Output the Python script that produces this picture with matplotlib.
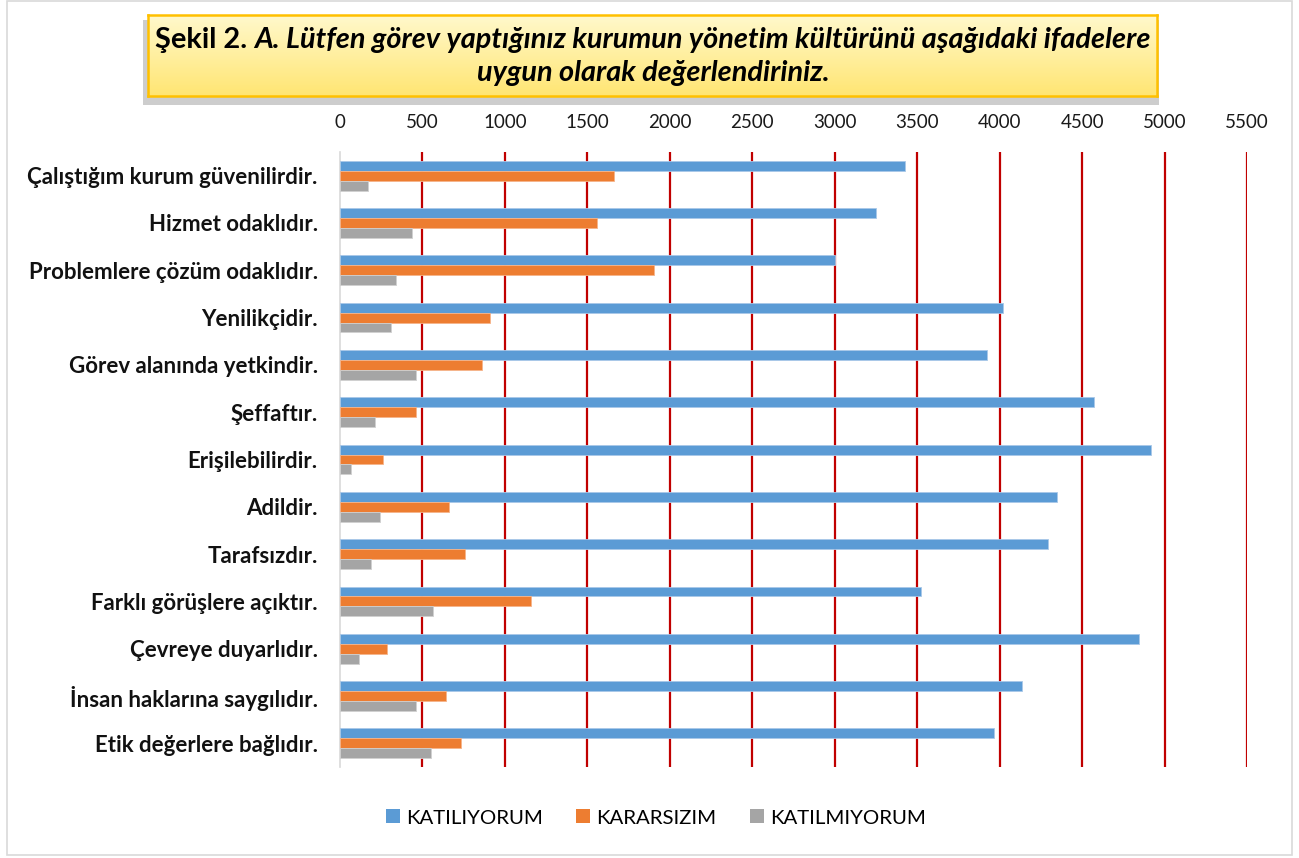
import numpy as np
import matplotlib
matplotlib.use("Agg")
import matplotlib.pyplot as plt
from matplotlib.patches import Rectangle, Patch

plt.rcParams['font.family'] = ['Lato', 'DejaVu Sans']

# data, top to bottom as in the chart
categories = [
    "Çalıştığım kurum güvenilirdir.",
    "Hizmet odaklıdır.",
    "Problemlere çözüm odaklıdır.",
    "Yenilikçidir.",
    "Görev alanında yetkindir.",
    "Şeffaftır.",
    "Erişilebilirdir.",
    "Adildir.",
    "Tarafsızdır.",
    "Farklı görüşlere açıktır.",
    "Çevreye duyarlıdır.",
    "İnsan haklarına saygılıdır.",
    "Etik değerlere bağlıdır.",
]
katiliyorum = [3426, 3250, 3002, 4019, 3923, 4570, 4915, 4346, 4292, 3523, 4843, 4134, 3965]
kararsizim = [1659, 1556, 1907, 908, 860, 460, 260, 660, 757, 1156, 285, 642, 732]
katilmiyorum = [170, 436, 339, 309, 460, 212, 67, 242, 188, 563, 115, 460, 551]
series_names = ["KATILIYORUM", "KARARSIZIM", "KATILMIYORUM"]
colors = ["#5B9BD5", "#ED7D31", "#A5A5A5"]
edges = ["#A9C8E8", "#F5B48A", "#D0D0D0"]
xticks = np.arange(0, 5501, 500)

W, H = 1299, 858
fig = plt.figure(figsize=(W / 100, H / 100), dpi=100)

def fx(px):
    return px / W

def fy(py):
    return 1 - py / H

# outer chart border
fig.patches.append(Rectangle((fx(7), fy(855)), fx(1292 - 7), (855 - 1) / H,
                             transform=fig.transFigure, fill=False,
                             edgecolor="#D9D9D9", linewidth=1.2))

# main axes
ax = fig.add_axes([fx(340), fy(767), fx(1247 - 340), (767 - 152) / H])
n = len(categories)
y = np.arange(n)
h = 0.21
for off, vals, c, e, lab in zip([-h, 0, h], [katiliyorum, kararsizim, katilmiyorum],
                                colors, edges, series_names):
    ax.barh(y + off, vals, height=h, color=c, edgecolor=e, linewidth=0.6,
            label=lab, zorder=3)
ax.set_ylim(n - 0.5, -0.5)
ax.set_xlim(0, 5500)
ax.set_yticks(y)
ax.set_yticklabels(categories, fontsize=16, fontweight='bold', color='#111111')
ax.set_xticks(xticks)
ax.set_xticklabels([str(v) for v in xticks], fontsize=13.5, color='#1a1a1a')
ax.xaxis.set_ticks_position('top')
ax.tick_params(axis='x', length=0, pad=15)
ax.tick_params(axis='y', length=0, pad=16)
for v in xticks[1:]:
    ax.axvline(v, color="#C00000", linewidth=1.6, zorder=1)
for s in ['top', 'right', 'bottom']:
    ax.spines[s].set_visible(False)
ax.spines['left'].set_color('#D9D9D9')
ax.spines['left'].set_linewidth(1.2)

# legend
handles = [Patch(facecolor=c, label=l) for c, l in zip(colors, series_names)]
fig.legend(handles=handles, loc='center', bbox_to_anchor=(fx(656), fy(818)), ncol=3,
           frameon=False, fontsize=14.7, handlelength=0.68, handleheight=0.68,
           handletextpad=0.3, columnspacing=1.65)

# title box with shadow and gradient fill
bx0, by0, bx1, by1 = 148, 15, 1157, 96
fig.patches.append(Rectangle((fx(bx0 - 5), fy(by1 + 9)), fx(bx1 - bx0 + 7), (by1 - by0 + 4) / H,
                             transform=fig.transFigure, facecolor="#BDBDBD",
                             edgecolor='none', alpha=0.75, zorder=-1))
tax = fig.add_axes([fx(bx0), fy(by1), fx(bx1 - bx0), (by1 - by0) / H])
grad = np.linspace(0, 1, 100).reshape(-1, 1)
top_c = np.array([1.0, 0.975, 0.80])
bot_c = np.array([1.0, 0.90, 0.45])
img = top_c[None, None, :] * (1 - grad[:, :, None]) + bot_c[None, None, :] * grad[:, :, None]
tax.imshow(img, aspect='auto', extent=[0, 1, 0, 1], origin='upper')
tax.set_xticks([])
tax.set_yticks([])
for s in tax.spines.values():
    s.set_color("#FFC000")
    s.set_linewidth(1.8)

# title text: bold prefix, bold italic rest
fsz = 20.8
part1 = "Şekil 2. "
part2 = "A. Lütfen görev yaptığınız kurumun yönetim kültürünü aşağıdaki ifadelere"
line2 = "uygun olarak değerlendiriniz."
renderer = fig.canvas.get_renderer()
t1 = fig.text(0, 0, part1, fontsize=fsz, fontweight='bold')
t2 = fig.text(0, 0, part2, fontsize=fsz, fontweight='bold', style='italic')
w1 = t1.get_window_extent(renderer).width / W
w2 = t2.get_window_extent(renderer).width / W
xs = fx(653) - (w1 + w2) / 2
t1.set_position((xs, fy(40)))
t1.set_va('center')
t2.set_position((xs + w1, fy(40)))
t2.set_va('center')
fig.text(fx(653), fy(73), line2, fontsize=fsz, fontweight='bold', style='italic',
         ha='center', va='center')

fig.savefig("out.png", dpi=100)
